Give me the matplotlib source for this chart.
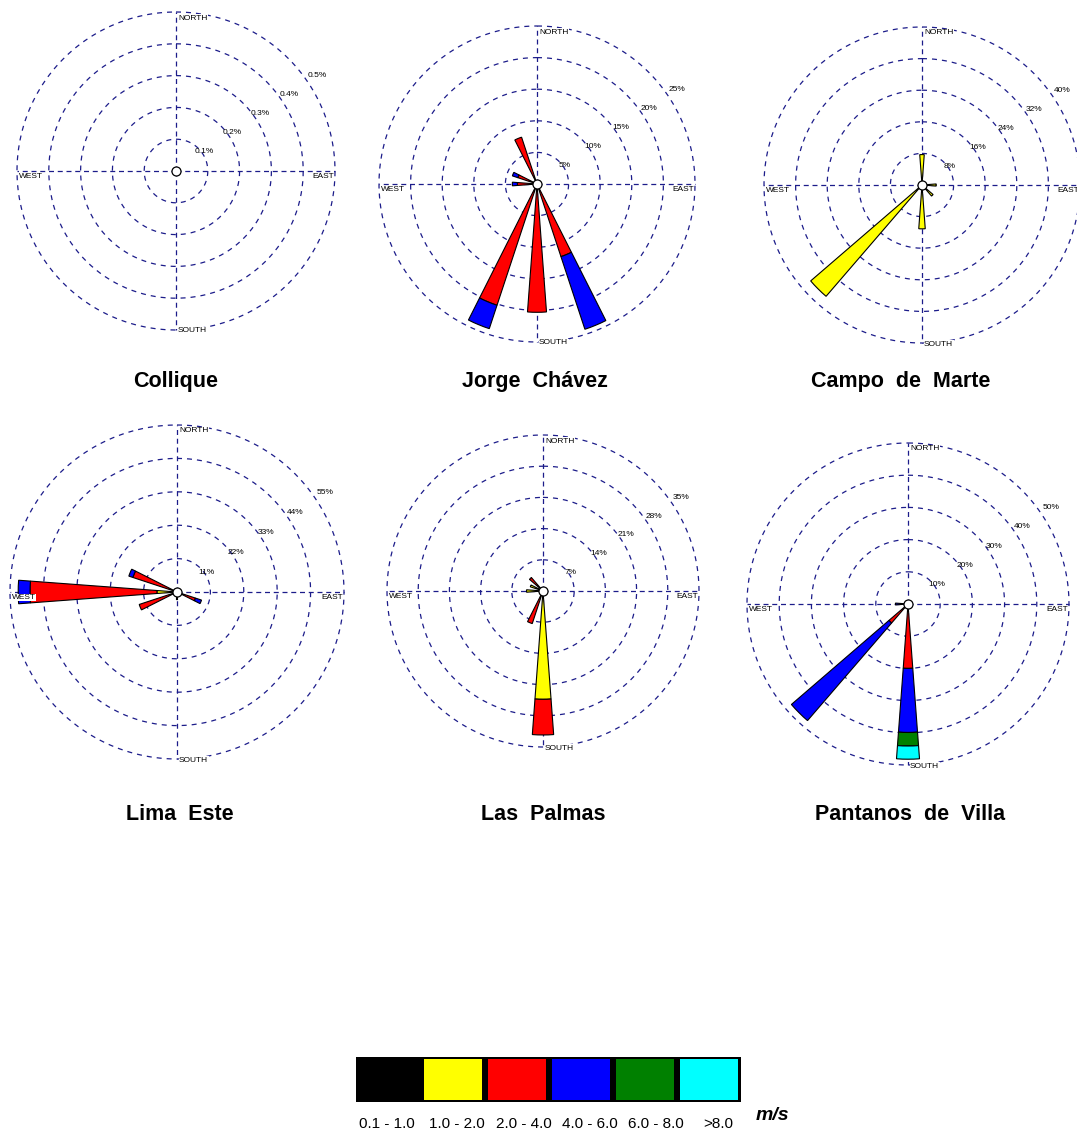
import numpy as np
import matplotlib
matplotlib.use("Agg")
import matplotlib.pyplot as plt
from matplotlib.patches import Rectangle

# ---------------- data ----------------
directions = ['N', 'NNE', 'NE', 'ENE', 'E', 'ESE', 'SE', 'SSE',
              'S', 'SSW', 'SW', 'WSW', 'W', 'WNW', 'NW', 'NNW']
speed_labels = ['0.1 - 1.0', '1.0 - 2.0', '2.0 - 4.0', '4.0 - 6.0', '6.0 - 8.0', '>8.0']
speed_colors = ['#000000', '#ffff00', '#ff0000', '#0000ff', '#008000', '#00ffff']

station_names = ['Collique', 'Jorge  Chávez', 'Campo  de  Marte',
                 'Lima  Este', 'Las  Palmas', 'Pantanos  de  Villa']
ring_steps = [0.1, 5, 8, 11, 7, 10]   # % per ring

# frequency (%) per direction, per speed class
collique = {}
jorge_chavez = {'S': [0, 0, 20.3, 0, 0, 0],
                'SSW': [0, 0, 20.2, 3.9, 0, 0],
                'SSE': [0, 0, 12.1, 12.1, 0, 0],
                'NNW': [0, 0, 7.8, 0, 0, 0],
                'W': [0, 0, 3.1, 0.8, 0, 0],
                'WNW': [0, 0, 3.2, 0.9, 0, 0]}
campo_de_marte = {'SW': [0, 37.2, 0, 0, 0, 0],
                  'N': [0, 7.7, 0, 0, 0, 0],
                  'S': [0, 11.1, 0, 0, 0, 0],
                  'E': [0, 3.6, 0, 0, 0, 0],
                  'SE': [0, 3.7, 0, 0, 0, 0]}
lima_este = {'W': [0, 6.6, 41.8, 3.9, 0, 0],
             'WNW': [0, 0, 15.3, 1.4, 0, 0],
             'WSW': [0, 0, 13.1, 0, 0, 0],
             'ESE': [0, 0, 6.4, 2.1, 0, 0],
             'S': [0, 2.5, 0, 0, 0, 0]}
las_palmas = {'S': [0, 24.3, 8.0, 0, 0, 0],
              'SSW': [0, 0, 7.7, 0, 0, 0],
              'W': [0, 3.7, 0, 0, 0, 0],
              'WNW': [0.6, 2.4, 0, 0, 0, 0],
              'NW': [0, 0, 4.0, 0, 0, 0]}
pantanos_de_villa = {'S': [0, 0, 20.0, 19.9, 4.2, 4.1],
                     'SW': [0, 0, 7.8, 40.0, 0, 0],
                     'W': [0, 0, 0, 3.9, 0, 0]}
stations = [collique, jorge_chavez, campo_de_marte, lima_este, las_palmas, pantanos_de_villa]

# ---------------- layout (pixels) ----------------
W, H = 1077, 1134
centers = [(176, 171), (537, 184), (922, 185), (177, 592), (543, 591), (908, 604)]
radii = [159, 158, 158, 167, 156, 161]
title_pos = [(176, 381), (535, 381), (901, 381), (180, 815), (543, 815), (910, 815)]
ring_color = '#1c1c8a'
petal_width = np.deg2rad(8.5)
pad = 1.04   # room so the outer ring is not clipped

fig = plt.figure(figsize=(W / 100, H / 100), dpi=100, facecolor='white')

for data, step, (cx, cy), R, name, (tx, ty) in zip(stations, ring_steps, centers, radii,
                                                  station_names, title_pos):
    Rp = R * pad
    ax = fig.add_axes([(cx - Rp) / W, 1 - (cy + Rp) / H, 2 * Rp / W, 2 * Rp / H],
                      projection='polar')
    ax.set_theta_zero_location('N')
    ax.set_theta_direction(-1)
    rmax = 5 * step
    ax.set_ylim(0, rmax * pad)
    ax.grid(False)
    ax.set_xticks([])
    ax.set_yticks([])
    ax.spines['polar'].set_visible(False)
    ax.patch.set_alpha(0)

    # dashed rings and cross
    th = np.linspace(0, 2 * np.pi, 400)
    for k in range(1, 6):
        ax.plot(th, np.full_like(th, k * step), color=ring_color, lw=0.9,
                ls=(0, (4, 4)), zorder=1)
        ax.text(np.deg2rad(56), k * step * 1.07, f"{k * step:g}%", fontsize=6,
                ha='center', va='center', family='Liberation Sans', zorder=6)
    for a in [0, np.pi / 2, np.pi, 3 * np.pi / 2]:
        ax.plot([a, a], [0, rmax], color=ring_color, lw=0.9, ls=(0, (4, 3)), zorder=1)

    # petals
    for d, freqs in data.items():
        theta = np.deg2rad(directions.index(d) * 22.5)
        bottom = 0
        for f, c in zip(freqs, speed_colors):
            if f > 0:
                ax.bar(theta, f, width=petal_width, bottom=bottom, color=c,
                       edgecolor='black', linewidth=0.8, zorder=3)
                bottom += f
    ax.plot(0, 0, 'o', ms=6.5, mfc='white', mec='black', mew=0.9, zorder=5, clip_on=False)

    lab = dict(fontsize=6, family='Liberation Sans', textcoords='offset pixels',
               annotation_clip=False, zorder=6,
               bbox=dict(facecolor='white', edgecolor='none', pad=0.3))
    ax.annotate('NORTH', xy=(0, rmax), xytext=(2, -6), ha='left', va='center', **lab)
    ax.annotate('SOUTH', xy=(np.pi, rmax), xytext=(2, -1), ha='left', va='center', **lab)
    ax.annotate('WEST', xy=(3 * np.pi / 2, rmax), xytext=(2, -2), ha='left', va='top', **lab)
    ax.annotate('EAST', xy=(np.pi / 2, rmax), xytext=(-1, -2), ha='right', va='top', **lab)

    fig.text(tx / W, 1 - ty / H, name, fontsize=15.5, fontweight='bold',
             family='Liberation Sans', ha='center', va='center')

# ---------------- legend ----------------
lx0, lx1, ly0, ly1 = 356, 741, 1057, 1102
lax = fig.add_axes([lx0 / W, 1 - ly1 / H, (lx1 - lx0) / W, (ly1 - ly0) / H])
lax.set_xlim(0, 6)
lax.set_ylim(0, 1)
lax.axis('off')
slot = (lx1 - lx0) / 6.0
lax.add_patch(Rectangle((0, 0), 6, 1, facecolor='black', edgecolor='none'))
for i, c in enumerate(speed_colors):
    lax.add_patch(Rectangle((i + 3.5 / slot, 2.0 / 45), 1 - 6.0 / slot, 1 - 4.0 / 45,
                            facecolor=c, edgecolor='none'))
label_x = [387, 457, 524, 590, 656, 718]
for x, s in zip(label_x, speed_labels):
    fig.text(x / W, 1 - 1124 / H, s, fontsize=11, ha='center', va='center',
             family='Liberation Sans')
fig.text(772 / W, 1 - 1116 / H, 'm/s', fontsize=14, fontweight='bold', style='italic',
         family='Liberation Sans', ha='center', va='center')

fig.savefig('out.png', dpi=100, facecolor='white')
